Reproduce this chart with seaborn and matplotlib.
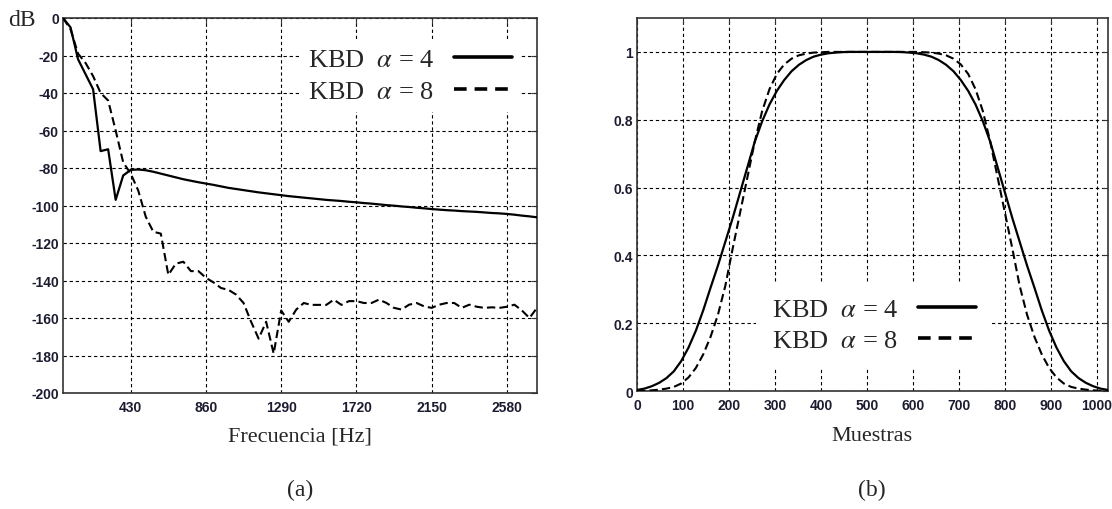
import numpy as np
import pandas as pd
import matplotlib
matplotlib.use("Agg")
import matplotlib.pyplot as plt
import seaborn as sns
from matplotlib.lines import Line2D

# ---------------- data ----------------
freq_hz = [43, 86, 129, 172, 215, 258, 301, 344, 387, 430,
           473, 516, 559, 602, 645, 688, 731, 774, 817, 860,
           903, 946, 989, 1032, 1075, 1118, 1161, 1204, 1247, 1290,
           1333, 1376, 1419, 1462, 1505, 1548, 1591, 1634, 1677, 1720,
           1763, 1806, 1849, 1892, 1935, 1978, 2021, 2064, 2107, 2150,
           2193, 2236, 2279, 2322, 2365, 2408, 2451, 2494, 2537, 2580,
           2623, 2666, 2709, 2752]

kbd4_db = [0, -5, -22, -30, -38, -71, -70, -97, -84, -81,
           -80.8, -81.2, -82, -83, -84, -85, -86, -86.8, -87.6, -88.3,
           -89, -89.8, -90.6, -91.2, -91.8, -92.4, -93, -93.5, -94, -94.5,
           -95, -95.4, -95.8, -96.2, -96.6, -97, -97.3, -97.6, -98, -98.3,
           -98.7, -99, -99.4, -99.8, -100.1, -100.5, -100.8, -101.2, -101.5, -101.9,
           -102.2, -102.5, -102.7, -103, -103.2, -103.4, -103.7, -104, -104.2, -104.5,
           -104.9, -105.4, -105.8, -106.3]

kbd8_db = [0, -6, -19, -24, -31, -40, -44, -60, -77, -83,
           -92, -106, -114, -115, -137, -131, -130, -135, -135, -138.6,
           -141, -144, -145, -147.5, -152, -162, -171, -162, -179, -156,
           -162, -155.5, -152, -153, -153, -153, -150.2, -153, -151, -151,
           -152, -152, -150.2, -152, -154.6, -155.5, -152.9, -152, -153.8, -154.6,
           -152.9, -152, -152, -154.6, -152.9, -154, -154.6, -154.3, -154.6, -154,
           -152.9, -156, -160, -154.6]

samples = [0, 16, 32, 48, 64, 80, 96, 112, 128, 144, 160, 176, 192, 208, 224, 240,
           256, 272, 288, 304, 320, 336, 352, 368, 384, 400, 416, 432, 448, 464, 480, 496,
           512, 528, 544, 560, 576, 592, 608, 624, 640, 656, 672, 688, 704, 720, 736, 752,
           768, 784, 800, 816, 832, 848, 864, 880, 896, 912, 928, 944, 960, 976, 992, 1008,
           1024]

kbd4_win = [0.003, 0.007, 0.014, 0.024, 0.038, 0.058, 0.088, 0.128, 0.178, 0.238,
            0.305, 0.37, 0.44, 0.51, 0.585, 0.66, 0.735, 0.795, 0.845, 0.885,
            0.917, 0.943, 0.962, 0.976, 0.986, 0.992, 0.996, 0.998, 0.9995, 1.0,
            1.0, 1.0, 1.0,
            1.0, 1.0, 1.0, 0.9995, 0.998, 0.996, 0.992, 0.986, 0.976, 0.962,
            0.943, 0.917, 0.885, 0.845, 0.795, 0.735, 0.66, 0.585, 0.51, 0.44,
            0.37, 0.305, 0.238, 0.178, 0.128, 0.088, 0.058, 0.038, 0.024, 0.014,
            0.007, 0.003]

kbd8_win = [0.0, 0.0005, 0.002, 0.004, 0.007, 0.012, 0.022, 0.04, 0.068, 0.108,
            0.16, 0.225, 0.31, 0.42, 0.525, 0.63, 0.735, 0.825, 0.89, 0.935,
            0.963, 0.98, 0.99, 0.995, 0.998, 0.999, 1.0, 1.0, 1.0, 1.0,
            1.0, 1.0, 1.0,
            1.0, 1.0, 1.0, 1.0, 1.0, 1.0, 0.999, 0.998, 0.995, 0.99,
            0.98, 0.963, 0.935, 0.89, 0.825, 0.735, 0.63, 0.525, 0.42, 0.31,
            0.225, 0.16, 0.108, 0.068, 0.04, 0.022, 0.012, 0.007, 0.004, 0.002,
            0.0005, 0.0]

db_ticks = [-200, -180, -160, -140, -120, -100, -80, -60, -40, -20, 0]
hz_ticks = [430, 860, 1290, 1720, 2150, 2580]
win_yticks = [0, 0.2, 0.4, 0.6, 0.8, 1]
win_ylabels = ["0", "0.2", "0.4", "0.6", "0.8", "1"]
win_xticks = [0, 100, 200, 300, 400, 500, 600, 700, 800, 900, 1000]
legend_labels = ["KBD  $\\alpha$ = 4", "KBD  $\\alpha$ = 8"]

# ---------------- style ----------------
sns.set_style("white")
plt.rcParams['font.family'] = ['Liberation Sans', 'DejaVu Sans']
plt.rcParams['mathtext.fontset'] = 'stix'

W, H = 1112, 510
fig = plt.figure(figsize=(W / 100, H / 100), dpi=100)


def rect(l, t, r, b):
    return [l / W, 1 - b / H, (r - l) / W, (b - t) / H]


ax1 = fig.add_axes(rect(63, 19, 537, 394))
ax2 = fig.add_axes(rect(637, 19, 1108, 392))

tick_color = '#1c1c30'
SOLID = '-'
DASHED = (0, (4, 2))

df1 = pd.DataFrame({'f': freq_hz, 'a4': kbd4_db, 'a8': kbd8_db})
sns.lineplot(data=df1, x='f', y='a4', ax=ax1, color='black', linewidth=1.6,
             linestyle=SOLID, zorder=3)
sns.lineplot(data=df1, x='f', y='a8', ax=ax1, color='black', linewidth=1.5,
             linestyle=DASHED, zorder=3)

df2 = pd.DataFrame({'n': samples, 'a4': kbd4_win, 'a8': kbd8_win})
sns.lineplot(data=df2, x='n', y='a4', ax=ax2, color='black', linewidth=1.6,
             linestyle=SOLID, zorder=3)
sns.lineplot(data=df2, x='n', y='a8', ax=ax2, color='black', linewidth=1.5,
             linestyle=DASHED, zorder=3)

ax1.set_xlim(43, 2752)
ax1.set_ylim(-200, 0)
ax1.set_xticks(hz_ticks)
ax1.set_yticks(db_ticks)
ax1.set_yticklabels([str(v) for v in db_ticks])

ax2.set_xlim(0, 1024)
ax2.set_ylim(0, 1.1)
ax2.set_xticks(win_xticks)
ax2.set_yticks(win_yticks)
ax2.set_yticklabels(win_ylabels)

for ax in (ax1, ax2):
    ax.set_xlabel('')
    ax.set_ylabel('')
    ax.grid(True, color='black', linestyle=(0, (3, 2.5)), linewidth=0.8, zorder=1)
    ax.set_axisbelow(True)
    for s in ax.spines.values():
        s.set_color('#333333')
        s.set_linewidth(1.2)
        s.set_visible(True)
    ax.tick_params(axis='both', direction='in', length=4, width=0.8,
                   top=True, right=True, colors='#333333',
                   labelcolor=tick_color, labelsize=10)
    ax.tick_params(axis='y', pad=3)
    ax.tick_params(axis='x', pad=5)
    for lab in ax.get_xticklabels() + ax.get_yticklabels():
        lab.set_fontweight('bold')

handles = [Line2D([], [], color='black', linewidth=2.6, linestyle='-'),
           Line2D([], [], color='black', linewidth=2.6, linestyle=(0, (3.5, 2.2)))]

leg_kw = dict(markerfirst=False, frameon=True, fancybox=False,
              prop={'family': 'Liberation Serif', 'size': 19},
              handlelength=2.2, handletextpad=0.75, labelspacing=0.3)
leg1 = ax1.legend(handles, legend_labels, loc='center', bbox_to_anchor=(0.732, 0.847),
                  borderpad=0.35, **leg_kw)
leg2 = ax2.legend(handles, legend_labels, loc='center', bbox_to_anchor=(0.503, 0.177),
                  borderpad=0.6, **leg_kw)
for lg in (leg1, leg2):
    fr = lg.get_frame()
    fr.set_facecolor('white')
    fr.set_edgecolor('none')
    fr.set_alpha(1)

serif = 'Liberation Serif'
fig.text(8 / W, 1 - 21 / H, 'dB', family=serif, size=17, ha='left', va='center')
fig.text(300 / W, 1 - 437 / H, 'Frecuencia [Hz]', family=serif, size=16, ha='center', va='center')
fig.text(872 / W, 1 - 437 / H, 'Muestras', family=serif, size=16, ha='center', va='center')
fig.text(300 / W, 1 - 490 / H, '(a)', family=serif, size=17, ha='center', va='center')
fig.text(872 / W, 1 - 490 / H, '(b)', family=serif, size=17, ha='center', va='center')

fig.savefig('out.png', dpi=100)
